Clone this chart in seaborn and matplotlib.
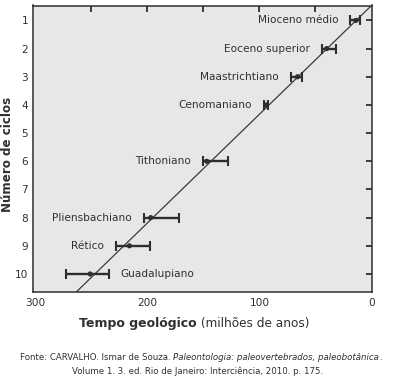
import numpy as np
import pandas as pd
import matplotlib
matplotlib.use('Agg')
import matplotlib.pyplot as plt
import seaborn as sns

# dados (idade em milhoes de anos)
eras = ['Mioceno médio', 'Eoceno superior', 'Maastrichtiano', 'Cenomaniano',
        'Tithoniano', 'Pliensbachiano', 'Rético', 'Guadalupiano']
ciclos = [1, 2, 3, 4, 6, 8, 9, 10]
idade = [14, 40, 66, 94, 147, 197, 216, 251]
idade_min = [10, 32, 62, 92, 128, 172, 198, 234]
idade_max = [19, 44, 72, 96, 150, 203, 228, 273]
lado_rotulo = ['esq', 'esq', 'esq', 'esq', 'esq', 'esq', 'esq', 'dir']

# reta de ajuste: idade = inclinacao * (ciclo - deslocamento)
inclinacao = 25.9
deslocamento = 0.47

x_ticks = [0, 50, 100, 150, 200, 250, 300]
y_ticks = [1, 2, 3, 4, 5, 6, 7, 8, 9, 10]

df = pd.DataFrame({'era': eras, 'ciclo': ciclos, 'idade': idade,
                   'idade_min': idade_min, 'idade_max': idade_max, 'lado': lado_rotulo})

sns.set_style('white')
plt.rcParams['font.family'] = ['DejaVu Sans']

W, H = 396, 380
fig = plt.figure(figsize=(W / 100, H / 100), dpi=100)
ax = fig.add_axes([33 / W, 1 - 292 / H, (371.5 - 33) / W, (292 - 5.5) / H])
ax.set_facecolor('#e6e7e8')

cor_escura = '#2e2e2e'
cor_texto = '#303030'

ylim = (10.64, 0.47)
ax.set_xlim(302, 0)
ax.set_ylim(*ylim)

# reta
cyc = np.array([ylim[1], ylim[0]])
sns.lineplot(x=inclinacao * (cyc - deslocamento), y=cyc, ax=ax, color='#3a3a3a',
             lw=0.9, sort=False, zorder=2)

# barras de erro
xerr = [df['idade'] - df['idade_min'], df['idade_max'] - df['idade']]
ax.errorbar(df['idade'], df['ciclo'], xerr=xerr, fmt='none', ecolor=cor_escura,
            elinewidth=1.7, capsize=3.6, capthick=1.5, zorder=3)
sns.scatterplot(data=df, x='idade', y='ciclo', ax=ax, color=cor_escura, s=14,
                marker='o', edgecolor='none', zorder=4, legend=False)

# rotulos das eras
for _, r in df.iterrows():
    if r['lado'] == 'esq':
        ax.annotate(r['era'], xy=(r['idade_max'], r['ciclo']), xytext=(-12, 0),
                    textcoords='offset pixels', ha='right', va='center',
                    fontsize=7.6, color=cor_texto)
    else:
        ax.annotate(r['era'], xy=(r['idade_min'], r['ciclo']), xytext=(11, 0),
                    textcoords='offset pixels', ha='left', va='center',
                    fontsize=7.6, color=cor_texto)

ax.set_xticks(x_ticks)
ax.set_xticklabels([str(v) if v % 100 == 0 else '' for v in x_ticks])
ax.set_yticks(y_ticks)
ax.set_yticklabels([str(v) for v in y_ticks])
ax.tick_params(direction='in', length=4, width=1.3, top=True, right=True,
               labelsize=7.6, color=cor_escura, labelcolor=cor_texto)
ax.tick_params(axis='x', pad=4.5)
ax.tick_params(axis='y', pad=3.5)
# sem marcas de tick nos cantos
for v, t in zip(x_ticks, ax.xaxis.get_major_ticks()):
    if v in (0, 300):
        t.tick1line.set_visible(False)
        t.tick2line.set_visible(False)
for s in ax.spines.values():
    s.set_color(cor_escura)
    s.set_linewidth(1.1)

ax.set_xlabel('')
ax.set_ylabel('Número de ciclos', fontsize=8.6, fontweight='bold', color=cor_texto)
ax.yaxis.set_label_coords((14 - 33) / (371.5 - 33), 0.48)


def texto_misto(partes, xc, y, **comum):
    # escreve pedacos com estilos diferentes lado a lado, centrados em xc (px)
    renderer = fig.canvas.get_renderer()
    objs = [fig.text(0, 1 - y / H, s, ha='left', **comum, **kw) for s, kw in partes]
    larguras = [t.get_window_extent(renderer).width for t in objs]
    x = xc - sum(larguras) / 2
    for t, w in zip(objs, larguras):
        t.set_x(x / W)
        x += w


texto_misto([('Tempo geológico', {'fontweight': 'bold', 'fontsize': 9.0}),
             (' (milhões de anos)', {'fontsize': 8.7})],
            194.5, 323, va='center', color=cor_texto)

texto_misto([('Fonte: CARVALHO. Ismar de Souza. ', {}),
             ('Paleontologia: paleovertebrados, paleobotânica', {'style': 'italic'}),
             ('.', {})],
            201, 358, va='center', fontsize=6.2, color=cor_texto)
texto_misto([('Volume 1. 3. ed. Rio de Janeiro: Interciência, 2010. p. 175.', {})],
            198, 371, va='center', fontsize=6.2, color=cor_texto)

fig.savefig('out.png', dpi=100, facecolor='white')
